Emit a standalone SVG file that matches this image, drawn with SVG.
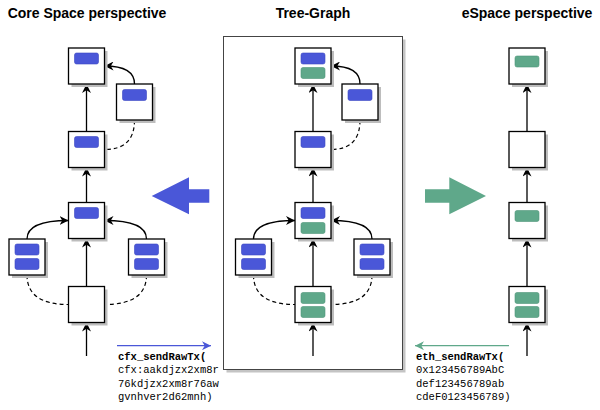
<svg xmlns="http://www.w3.org/2000/svg" width="600" height="410" viewBox="0 0 600 410">
<defs>
<style>
.title{font-family:"Liberation Sans",Arial,sans-serif;font-weight:bold;font-size:14px;fill:#000;text-anchor:middle}
.mono{font-family:"Liberation Mono","Courier New",monospace;font-size:10.5px;fill:#000}
.bold{font-weight:bold}
.sh{fill:#bdbdbd}
.box{fill:#fff;stroke:#000;stroke-width:1.3}
.b{fill:#4a57d8;stroke:#3b47c2;stroke-width:0.6}
.g{fill:#5fa88a;stroke:#4f9679;stroke-width:0.6}
.ln{fill:none;stroke:#000;stroke-width:1.3}
.dash{fill:none;stroke:#000;stroke-width:1.2;stroke-dasharray:4 3}
</style>
<marker id="ah" viewBox="0 0 10 10" refX="10" refY="5" markerWidth="9" markerHeight="9" markerUnits="userSpaceOnUse" orient="auto"><path d="M0,0 L10,5 L0,10 L3,5 z" fill="#000"/></marker>
<marker id="ahb" viewBox="0 0 10 10" refX="10" refY="5" markerWidth="9" markerHeight="9" markerUnits="userSpaceOnUse" orient="auto"><path d="M0,0 L10,5 L0,10 L3,5 z" fill="#4a57d8"/></marker>
<marker id="ahg" viewBox="0 0 10 10" refX="10" refY="5" markerWidth="9" markerHeight="9" markerUnits="userSpaceOnUse" orient="auto"><path d="M0,0 L10,5 L0,10 L3,5 z" fill="#5fa88a"/></marker>
</defs>
<rect width="600" height="410" fill="#fff"/>

<g id="titles">
<text class="title" x="87" y="17.5">Core Space perspective</text>
<text class="title" x="313" y="17.5">Tree-Graph</text>
<text class="title" x="527" y="17.5">eSpace perspective</text>
</g>

<g id="tree-graph-panel">
<rect x="226.5" y="39.5" width="179" height="333" fill="#c4c4c4"/>
<rect x="223.5" y="36.5" width="179" height="333" fill="#fff" stroke="#444" stroke-width="1"/>
</g>

<g id="big-arrows">
<polygon id="arrow-to-core" points="151.7,196 189,177.3 189,189.3 209.3,189.3 209.3,202.7 189,202.7 189,214.3" fill="#4a57d8"/>
<polygon id="arrow-to-espace" points="425,189.3 449.3,189.3 449.3,177.3 486,196 449.3,214.3 449.3,202.7 425,202.7" fill="#5fa88a"/>
</g>

<g id="connectors">
<!-- core -->
<line class="ln" x1="86.5" y1="131.5" x2="86.5" y2="84" marker-end="url(#ah)"/>
<line class="ln" x1="86.5" y1="202.5" x2="86.5" y2="167.5" marker-end="url(#ah)"/>
<line class="ln" x1="86.5" y1="286.5" x2="86.5" y2="238.5" marker-end="url(#ah)"/>
<line class="ln" x1="86.5" y1="356" x2="86.5" y2="322.5" marker-end="url(#ah)"/>
<path class="ln" d="M134.5,84 Q134.5,66 104.5,66" marker-end="url(#ah)"/>
<path class="dash" d="M134.5,120 Q134.5,149.5 104.5,149.5"/>
<path class="ln" d="M27,239 Q27,220.5 68.5,220.5" marker-end="url(#ah)"/>
<path class="ln" d="M146.5,239 Q146.5,220.5 104.5,220.5" marker-end="url(#ah)"/>
<path class="dash" d="M27,275 Q27,304.5 68.5,304.5"/>
<path class="dash" d="M146.5,275 Q146.5,304.5 104.5,304.5"/>
<!-- tree-graph -->
<line class="ln" x1="313" y1="131.5" x2="313" y2="84" marker-end="url(#ah)"/>
<line class="ln" x1="313" y1="202.5" x2="313" y2="167.5" marker-end="url(#ah)"/>
<line class="ln" x1="313" y1="286.5" x2="313" y2="238.5" marker-end="url(#ah)"/>
<line class="ln" x1="313" y1="356" x2="313" y2="322.5" marker-end="url(#ah)"/>
<path class="ln" d="M360,84 Q360,66 331,66" marker-end="url(#ah)"/>
<path class="dash" d="M360,120 Q360,149.5 331,149.5"/>
<path class="ln" d="M253.5,239 Q253.5,220.5 295,220.5" marker-end="url(#ah)"/>
<path class="ln" d="M372,239 Q372,220.5 331,220.5" marker-end="url(#ah)"/>
<path class="dash" d="M253.5,275 Q253.5,304.5 295,304.5"/>
<path class="dash" d="M372,275 Q372,304.5 331,304.5"/>
<!-- espace -->
<line class="ln" x1="527" y1="131.5" x2="527" y2="84" marker-end="url(#ah)"/>
<line class="ln" x1="527" y1="202.5" x2="527" y2="167.5" marker-end="url(#ah)"/>
<line class="ln" x1="527" y1="286.5" x2="527" y2="238.5" marker-end="url(#ah)"/>
<line class="ln" x1="527" y1="356" x2="527" y2="322.5" marker-end="url(#ah)"/>
<!-- rpc arrows -->
<line x1="117" y1="345.7" x2="211" y2="345.7" stroke="#4a57d8" stroke-width="1.3" marker-end="url(#ahb)"/>
<line x1="509" y1="345.7" x2="415" y2="345.7" stroke="#5fa88a" stroke-width="1.3" marker-end="url(#ahg)"/>
</g>

<!-- Core Space nodes -->
<g id="core-n1"><rect class="sh" x="71.5" y="51" width="36" height="36"/><rect class="box" x="68.5" y="48" width="36" height="36"/><rect class="b" x="74.5" y="53" width="24" height="11" rx="2"/></g>
<g id="core-side1"><rect class="sh" x="119.5" y="87" width="36" height="36"/><rect class="box" x="116.5" y="84" width="36" height="36"/><rect class="b" x="122.5" y="89.5" width="24" height="11" rx="2"/></g>
<g id="core-n2"><rect class="sh" x="71.5" y="134.5" width="36" height="36"/><rect class="box" x="68.5" y="131.5" width="36" height="36"/><rect class="b" x="74.5" y="136.5" width="24" height="11" rx="2"/></g>
<g id="core-n3"><rect class="sh" x="71.5" y="205.5" width="36" height="36"/><rect class="box" x="68.5" y="202.5" width="36" height="36"/><rect class="b" x="74.5" y="207.5" width="24" height="11" rx="2"/></g>
<g id="core-left"><rect class="sh" x="12" y="242" width="36" height="36"/><rect class="box" x="9" y="239" width="36" height="36"/><rect class="b" x="15" y="244" width="24" height="11" rx="2"/><rect class="b" x="15" y="258.5" width="24" height="11" rx="2"/></g>
<g id="core-right"><rect class="sh" x="131.5" y="242" width="36" height="36"/><rect class="box" x="128.5" y="239" width="36" height="36"/><rect class="b" x="134.5" y="244" width="24" height="11" rx="2"/><rect class="b" x="134.5" y="258.5" width="24" height="11" rx="2"/></g>
<g id="core-n4"><rect class="sh" x="71.5" y="289.5" width="36" height="36"/><rect class="box" x="68.5" y="286.5" width="36" height="36"/></g>

<!-- Tree-Graph nodes -->
<g id="tg-n1"><rect class="sh" x="298" y="51" width="36" height="36"/><rect class="box" x="295" y="48" width="36" height="36"/><rect class="b" x="301" y="53" width="24" height="11" rx="2"/><rect class="g" x="301" y="67.5" width="24" height="11" rx="2"/></g>
<g id="tg-side1"><rect class="sh" x="345" y="87" width="36" height="36"/><rect class="box" x="342" y="84" width="36" height="36"/><rect class="b" x="348" y="89.5" width="24" height="11" rx="2"/></g>
<g id="tg-n2"><rect class="sh" x="298" y="134.5" width="36" height="36"/><rect class="box" x="295" y="131.5" width="36" height="36"/><rect class="b" x="301" y="136.5" width="24" height="11" rx="2"/></g>
<g id="tg-n3"><rect class="sh" x="298" y="205.5" width="36" height="36"/><rect class="box" x="295" y="202.5" width="36" height="36"/><rect class="b" x="301" y="207.5" width="24" height="11" rx="2"/><rect class="g" x="301" y="222.5" width="24" height="11" rx="2"/></g>
<g id="tg-left"><rect class="sh" x="238.5" y="242" width="36" height="36"/><rect class="box" x="235.5" y="239" width="36" height="36"/><rect class="b" x="241.5" y="244" width="24" height="11" rx="2"/><rect class="b" x="241.5" y="258.5" width="24" height="11" rx="2"/></g>
<g id="tg-right"><rect class="sh" x="357" y="242" width="36" height="36"/><rect class="box" x="354" y="239" width="36" height="36"/><rect class="b" x="360" y="244" width="24" height="11" rx="2"/><rect class="b" x="360" y="258.5" width="24" height="11" rx="2"/></g>
<g id="tg-n4"><rect class="sh" x="298" y="289.5" width="36" height="36"/><rect class="box" x="295" y="286.5" width="36" height="36"/><rect class="g" x="301" y="292.5" width="24" height="11" rx="2"/><rect class="g" x="301" y="306.5" width="24" height="11" rx="2"/></g>

<!-- eSpace nodes -->
<g id="es-n1"><rect class="sh" x="512" y="51" width="36" height="36"/><rect class="box" x="509" y="48" width="36" height="36"/><rect class="g" x="515" y="56" width="24" height="11" rx="2"/></g>
<g id="es-n2"><rect class="sh" x="512" y="134.5" width="36" height="36"/><rect class="box" x="509" y="131.5" width="36" height="36"/></g>
<g id="es-n3"><rect class="sh" x="512" y="205.5" width="36" height="36"/><rect class="box" x="509" y="202.5" width="36" height="36"/><rect class="g" x="515" y="210.5" width="24" height="11" rx="2"/></g>
<g id="es-n4"><rect class="sh" x="512" y="289.5" width="36" height="36"/><rect class="box" x="509" y="286.5" width="36" height="36"/><rect class="g" x="515" y="292.5" width="24" height="11" rx="2"/><rect class="g" x="515" y="306.5" width="24" height="11" rx="2"/></g>

<g id="rpc-labels">
<text class="mono" x="118" y="360"><tspan class="bold">cfx_sendRawTx(</tspan><tspan x="118" y="373.3">cfx:aakdjzx2xm8r</tspan><tspan x="118" y="386.6">76kdjzx2xm8r76aw</tspan><tspan x="118" y="400">gvnhver2d62mnh)</tspan></text>
<text class="mono" x="416" y="360"><tspan class="bold">eth_sendRawTx(</tspan><tspan x="416" y="373.3">0x123456789AbC</tspan><tspan x="416" y="386.6">def123456789ab</tspan><tspan x="416" y="400">cdeF0123456789)</tspan></text>
</g>
</svg>
